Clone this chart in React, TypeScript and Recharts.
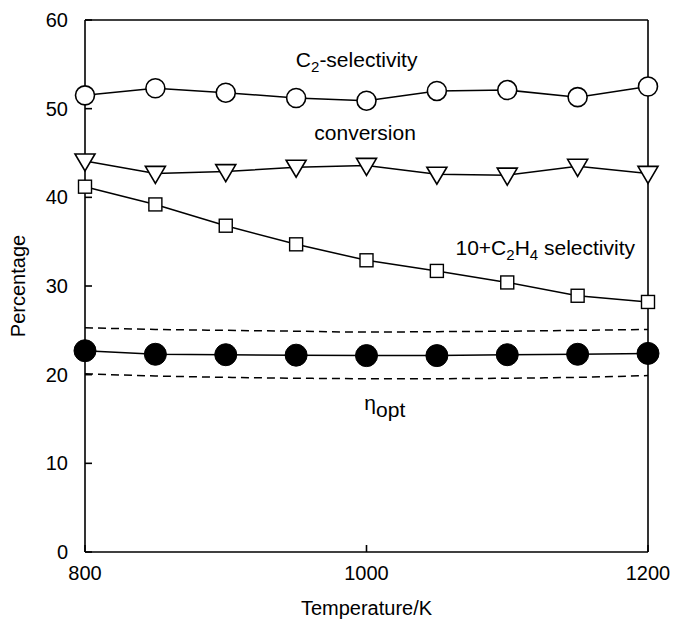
import React from 'react';
import { LineChart, Line, XAxis, YAxis, ReferenceDot, ReferenceLine } from 'recharts';

const temperatures = [800, 850, 900, 950, 1000, 1050, 1100, 1150, 1200];
const c2Selectivity = [51.5, 52.3, 51.8, 51.2, 50.9, 52.0, 52.1, 51.3, 52.5];
const conversion = [44.1, 42.7, 42.9, 43.4, 43.6, 42.6, 42.5, 43.5, 42.7];
const c2h4Selectivity10 = [41.2, 39.2, 36.8, 34.7, 32.9, 31.7, 30.4, 28.9, 28.2];
const etaOpt = [22.7, 22.3, 22.25, 22.2, 22.15, 22.15, 22.25, 22.3, 22.4];
const etaUpper = [25.3, 25.1, 25.0, 24.9, 24.8, 24.85, 24.9, 25.0, 25.1];
const etaLower = [20.1, 19.85, 19.7, 19.6, 19.55, 19.55, 19.6, 19.7, 19.9];
const yTicks = [0, 10, 20, 30, 40, 50, 60];
const xTicks = [800, 1000, 1200];

const data = temperatures.map((t, i) => ({
  t,
  c2: c2Selectivity[i],
  conv: conversion[i],
  eth: c2h4Selectivity10[i],
  eta: etaOpt[i],
  up: etaUpper[i],
  lo: etaLower[i],
}));

const FONT = '"Liberation Sans", Arial, Helvetica, sans-serif';

const OpenCircle = (p: any) =>
  p.cx == null ? null : (
    <circle key={`oc${p.index}`} cx={p.cx} cy={p.cy} r={9.5} fill="#fff" stroke="#000" strokeWidth={1.6} />
  );
const FilledCircle = (p: any) =>
  p.cx == null ? null : <circle key={`fc${p.index}`} cx={p.cx} cy={p.cy} r={11} fill="#000" stroke="#000" />;
const DownTriangle = (p: any) =>
  p.cx == null ? null : (
    <polygon
      key={`dt${p.index}`}
      points={`${p.cx - 10},${p.cy - 7} ${p.cx + 10},${p.cy - 7} ${p.cx},${p.cy + 10}`}
      fill="#fff"
      stroke="#000"
      strokeWidth={1.6}
      strokeLinejoin="miter"
    />
  );
const Square = (p: any) =>
  p.cx == null ? null : (
    <rect key={`sq${p.index}`} x={p.cx - 6.5} y={p.cy - 6.5} width={13} height={13} fill="#fff" stroke="#000" strokeWidth={1.4} />
  );

const textStyle = { fontFamily: FONT, fontSize: 21, fill: '#000' };

const C2Label = (p: any) => (
  <text x={p.cx} y={p.cy} textAnchor="middle" style={textStyle}>
    <tspan>C</tspan>
    <tspan fontSize={15} dy={5}>2</tspan>
    <tspan dy={-5}>-selectivity</tspan>
  </text>
);
const ConvLabel = (p: any) => (
  <text x={p.cx} y={p.cy} textAnchor="middle" style={textStyle}>
    conversion
  </text>
);
const EthLabel = (p: any) => (
  <text x={p.cx} y={p.cy} textAnchor="middle" style={textStyle}>
    <tspan>10+C</tspan>
    <tspan fontSize={15} dy={5}>2</tspan>
    <tspan dy={-5}>H</tspan>
    <tspan fontSize={15} dy={5}>4</tspan>
    <tspan dy={-5}> selectivity</tspan>
  </text>
);
const EtaLabel = (p: any) => (
  <text x={p.cx} y={p.cy} textAnchor="middle" style={textStyle}>
    <tspan fontSize={21}>η</tspan>
    <tspan fontSize={21} dy={7}>opt</tspan>
  </text>
);

const YTitle = (props: any) => {
  const vb = props.viewBox || {};
  const x = vb.x + 18;
  const y = vb.y + vb.height / 2;
  return (
    <text
      x={x}
      y={y}
      transform={`rotate(-90, ${x}, ${y})`}
      textAnchor="middle"
      dominantBaseline="central"
      style={{ fontFamily: FONT, fontSize: 20, fill: '#000' }}
    >
      Percentage
    </text>
  );
};
const XTitle = (props: any) => {
  const vb = props.viewBox || {};
  return (
    <text
      x={vb.x + vb.width / 2}
      y={vb.y + 63}
      textAnchor="middle"
      style={{ fontFamily: FONT, fontSize: 20, fill: '#000' }}
    >
      Temperature/K
    </text>
  );
};

const axisStroke = { stroke: '#000', strokeWidth: 1.6 };
const tickStyle = { fontFamily: FONT, fontSize: 20, fill: '#000' };

export default function App() {
  return (
    <div style={{ position: 'absolute', left: 0, top: 0, background: '#fff' }}>
      <LineChart width={674} height={621} data={data} margin={{ top: 20, right: 0, bottom: 0, left: 0 }}>
        <XAxis
          xAxisId="b"
          dataKey="t"
          type="number"
          domain={[800, 1200]}
          ticks={xTicks}
          height={69}
          axisLine={axisStroke}
          tickLine={axisStroke}
          tickSize={-7}
          tickMargin={21}
          tick={tickStyle}
          label={<XTitle />}
        />
        <YAxis
          yAxisId="l"
          type="number"
          domain={[0, 60]}
          ticks={yTicks}
          width={85}
          axisLine={axisStroke}
          tickLine={axisStroke}
          tickSize={-7}
          tickMargin={24}
          tick={tickStyle}
          label={<YTitle />}
        />
        <YAxis
          yAxisId="r"
          orientation="right"
          type="number"
          domain={[0, 60]}
          ticks={yTicks}
          width={26}
          axisLine={axisStroke}
          tickLine={axisStroke}
          tickSize={-7}
          tick={false}
        />
        <ReferenceLine xAxisId="b" yAxisId="l" y={60} stroke="#000" strokeWidth={1.6} />
        <Line xAxisId="b" yAxisId="l" dataKey="up" stroke="#000" strokeWidth={1.5} strokeDasharray="8 5" dot={false} type="monotone" isAnimationActive={false} />
        <Line xAxisId="b" yAxisId="l" dataKey="lo" stroke="#000" strokeWidth={1.5} strokeDasharray="8 5" dot={false} type="monotone" isAnimationActive={false} />
        <Line xAxisId="b" yAxisId="l" dataKey="eth" stroke="#000" strokeWidth={1.5} dot={Square} type="linear" isAnimationActive={false} />
        <Line xAxisId="b" yAxisId="l" dataKey="conv" stroke="#000" strokeWidth={1.5} dot={DownTriangle} type="linear" isAnimationActive={false} />
        <Line xAxisId="b" yAxisId="l" dataKey="c2" stroke="#000" strokeWidth={1.5} dot={OpenCircle} type="linear" isAnimationActive={false} />
        <Line xAxisId="b" yAxisId="l" dataKey="eta" stroke="#000" strokeWidth={1.5} dot={FilledCircle} type="linear" isAnimationActive={false} />
        <ReferenceDot xAxisId="b" yAxisId="l" x={993} y={54.7} r={0} shape={C2Label} />
        <ReferenceDot xAxisId="b" yAxisId="l" x={999} y={46.5} r={0} shape={ConvLabel} />
        <ReferenceDot xAxisId="b" yAxisId="l" x={1127} y={33.5} r={0} shape={EthLabel} />
        <ReferenceDot xAxisId="b" yAxisId="l" x={1013} y={16.0} r={0} shape={EtaLabel} />
      </LineChart>
    </div>
  );
}
